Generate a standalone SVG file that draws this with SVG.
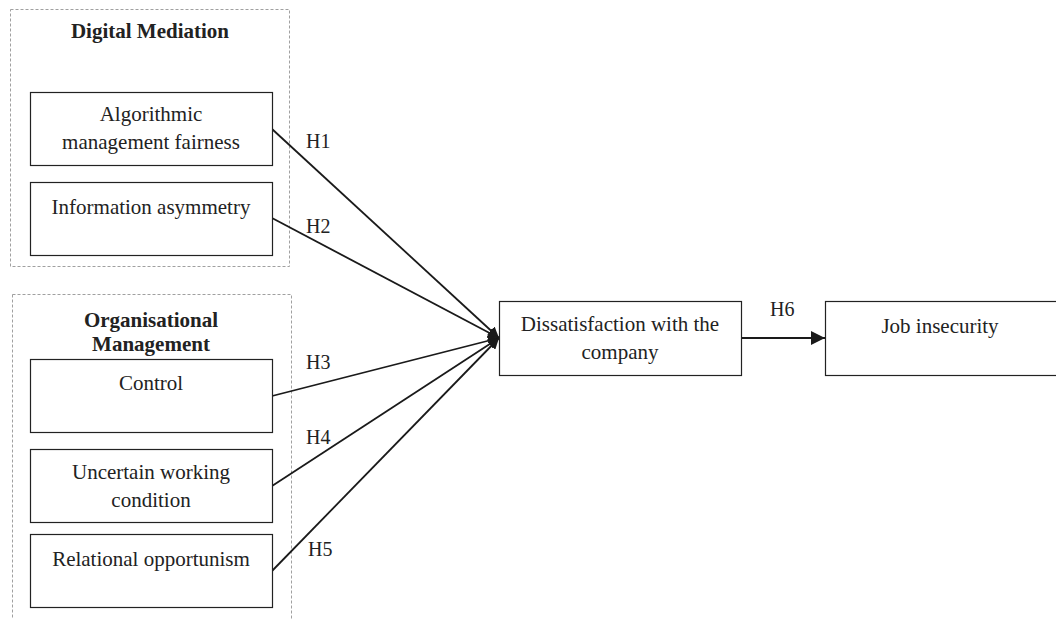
<svg xmlns="http://www.w3.org/2000/svg" width="1056" height="619" viewBox="0 0 1056 619">
<defs>
<marker id="ah" viewBox="0 0 10 10" refX="10" refY="5" markerWidth="11" markerHeight="11" markerUnits="userSpaceOnUse" orient="auto">
<path d="M0,0 L10,5 L0,10 Z" fill="#1a1a1a"/>
</marker>
<marker id="ah2" viewBox="0 0 10 10" refX="10" refY="5" markerWidth="14" markerHeight="14" markerUnits="userSpaceOnUse" orient="auto">
<path d="M0,0 L10,5 L0,10 Z" fill="#1a1a1a"/>
</marker>
<style>
.grp{fill:none;stroke:#a0a0a0;stroke-width:1;stroke-dasharray:3,2}
.box{fill:#fff;stroke:#222;stroke-width:1.2}
.t{font-family:"Liberation Serif",serif;font-size:21px;fill:#222;text-anchor:middle}
.b{font-weight:bold}
.l{font-family:"Liberation Serif",serif;font-size:20px;fill:#222}
.c{stroke:#1a1a1a;stroke-width:1.8;fill:none;marker-end:url(#ah)}
</style>
</defs>
<rect width="1056" height="619" fill="#fff"/>
<g id="group-digital">
<rect class="grp" x="10.5" y="9.5" width="279" height="257"/>
<text class="t b" x="150" y="38">Digital Mediation</text>
</g>
<g id="group-org">
<rect class="grp" x="12.5" y="294.5" width="279" height="330"/>
<text class="t b" x="151" y="327">Organisational</text>
<text class="t b" x="151" y="351">Management</text>
</g>
<g id="connectors">
<line class="c" x1="272" y1="129" x2="499" y2="338"/>
<line class="c" x1="272" y1="218" x2="499" y2="338"/>
<line class="c" x1="272" y1="396" x2="499" y2="338"/>
<line class="c" x1="272" y1="486" x2="499" y2="338"/>
<line class="c" x1="272" y1="571" x2="499" y2="338"/>
<line class="c" x1="741" y1="338" x2="825" y2="338" style="marker-end:url(#ah2)"/>
<text class="l" x="306" y="148">H1</text>
<text class="l" x="306" y="233">H2</text>
<text class="l" x="306" y="369">H3</text>
<text class="l" x="306" y="444">H4</text>
<text class="l" x="308" y="556">H5</text>
<text class="l" x="770" y="316">H6</text>
</g>
<g id="node-algorithmic">
<rect class="box" x="30.5" y="92.5" width="242" height="73"/>
<text class="t" x="151" y="121">Algorithmic</text>
<text class="t" x="151" y="149">management fairness</text>
</g>
<g id="node-information">
<rect class="box" x="30.5" y="182.5" width="242" height="73"/>
<text class="t" x="151" y="214">Information asymmetry</text>
</g>
<g id="node-control">
<rect class="box" x="30.5" y="359.5" width="242" height="73"/>
<text class="t" x="151" y="390">Control</text>
</g>
<g id="node-uncertain">
<rect class="box" x="30.5" y="449.5" width="242" height="73"/>
<text class="t" x="151" y="479">Uncertain working</text>
<text class="t" x="151" y="507">condition</text>
</g>
<g id="node-relational">
<rect class="box" x="30.5" y="534.5" width="242" height="73"/>
<text class="t" x="151" y="566">Relational opportunism</text>
</g>
<g id="node-dissatisfaction">
<rect class="box" x="499.5" y="301.5" width="242" height="74"/>
<text class="t" x="620" y="331">Dissatisfaction with the</text>
<text class="t" x="620" y="359">company</text>
</g>
<g id="node-job">
<rect class="box" x="825.5" y="301.5" width="242" height="74"/>
<text class="t" x="940" y="333">Job insecurity</text>
</g>
</svg>
